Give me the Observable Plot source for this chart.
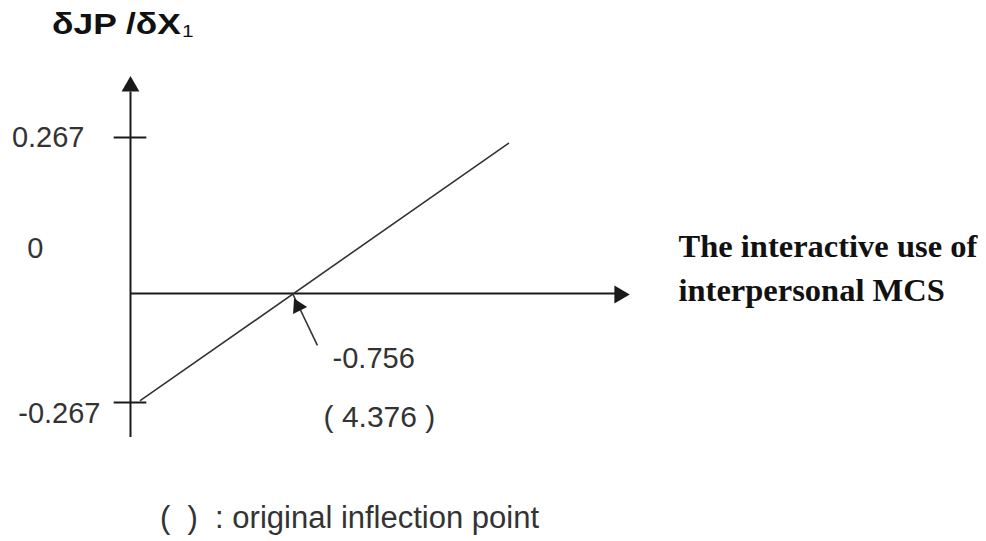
<!DOCTYPE html>
<html><head><meta charset="utf-8">
<script src="https://cdn.jsdelivr.net/npm/d3@7"></script>
<script src="https://cdn.jsdelivr.net/npm/@observablehq/plot@0.6"></script>
<style>
html,body{margin:0;padding:0;background:#fff;width:986px;height:541px;overflow:hidden}
#title{height:45px;position:relative;font-family:"Liberation Sans",Arial,sans-serif;font-weight:bold;font-size:29px;color:#111}
#title span{position:absolute;left:52px;top:7px;line-height:34px;white-space:pre;transform:scaleX(1.22);transform-origin:0 50%}
#title sub{font-weight:normal;font-size:17px;vertical-align:baseline;position:relative;top:3px;margin-left:1px}
#chart{height:450px}
#caption{height:46px;position:relative;font-family:"Liberation Sans",Arial,sans-serif;font-size:31px;color:#333}
#caption span{position:absolute;left:160px;top:0;line-height:46px;white-space:pre}
</style></head>
<body>
<div id="title"><span></span></div>
<div id="chart"></div>
<div id="caption"><span></span></div>
<script>
// ---- data ----
const yTitle = "δJP /δX";
const yTitleSub = "1";
const xTitle = ["The interactive use of", "interpersonal MCS"];
const yTickValues = [0.267, -0.267];
const yTickLabels = ["0.267", "-0.267"];
const zeroLabel = "0";
const axisX = [-1.5, 0.8];        // y-axis position, x-axis arrow tip
const axisY = [-0.353, 0.375];    // y-axis bottom, y-axis arrow tip
const lineX = [-1.454, 0.235];
const lineY = [-0.262, 0.257];
const inflectionX = -0.756;
const inflectionLabel = "-0.756";
const originalLabel = "( 4.376 )";
const calloutStart = [-0.642, -0.127];
const captionText = "(  )  : original inflection point";

// ---- titles ----
const t = document.querySelector("#title span");
t.textContent = yTitle;
const sub = document.createElement("sub");
sub.textContent = yTitleSub;
t.appendChild(sub);
document.querySelector("#caption span").textContent = captionText;

const ink = "#1a1a1a";
const textInk = "#333";
const sans = "Liberation Sans, Arial, sans-serif";
const tickHalf = 0.075;

const lineData = lineX.map((x, i) => ({x, y: lineY[i]}));

const chart = Plot.plot({
  width: 986,
  height: 450,
  margin: 0,
  style: {background: "transparent", overflow: "visible"},
  x: {type: "linear", domain: axisX, range: [130, 631], axis: null},
  y: {type: "linear", domain: [yTickValues[1], 0, yTickValues[0]], range: [357, 248, 92], axis: null},
  marks: [
    // y axis
    Plot.ruleX([axisX[0]], {y1: () => axisY[0], y2: () => axisY[1] - 0.03, stroke: ink, strokeWidth: 2}),
    // x axis
    Plot.ruleY([0], {x1: () => axisX[0], x2: () => axisX[1] - 0.04, stroke: ink, strokeWidth: 2}),
    // ticks on y axis
    Plot.ruleY(yTickValues, {x1: () => axisX[0] - tickHalf, x2: () => axisX[0] + tickHalf, stroke: ink, strokeWidth: 2}),
    // arrowheads of the axes
    Plot.dot([{x: axisX[0], y: axisY[1]}], {x: "x", y: "y", symbol: "triangle2", r: 8.5, fill: ink, stroke: "none", dy: 12, rotate: 0}),
    Plot.dot([{x: axisX[1], y: 0}], {x: "x", y: "y", symbol: "triangle2", r: 8.5, fill: ink, stroke: "none", dx: -12, dy: 1, rotate: 90}),
    // the marginal effect line
    Plot.line(lineData, {x: "x", y: "y", stroke: "#333", strokeWidth: 1.6}),
    // callout arrow to the inflection point
    Plot.link([{x1: calloutStart[0], y1: calloutStart[1], x2: inflectionX, y2: 0}],
      {x1: "x1", y1: "y1", x2: "x2", y2: "y2", stroke: "#333", strokeWidth: 1.6}),
    Plot.dot([{x: inflectionX, y: 0}], {x: "x", y: "y", symbol: "triangle2", r: 7.5, fill: ink, stroke: "none", dx: 5.5, dy: 13, rotate: -26.6}),
    // y tick labels
    Plot.text([yTickValues[0]], {x: () => axisX[0], y: d => d, text: () => yTickLabels[0], textAnchor: "end", dx: -46, fontSize: 29, fontFamily: sans, fill: textInk}),
    Plot.text([yTickValues[1]], {x: () => axisX[0], y: d => d, text: () => yTickLabels[1], textAnchor: "end", dx: -30, dy: 11, fontSize: 29, fontFamily: sans, fill: textInk}),
    Plot.text([0], {x: () => axisX[0], y: d => d, text: () => zeroLabel, textAnchor: "end", dx: -87, dy: -45, fontSize: 29, fontFamily: sans, fill: textInk}),
    // inflection labels
    Plot.text([{x: inflectionX, y: 0}], {x: "x", y: "y", text: () => inflectionLabel, textAnchor: "start", dx: 40, dy: 65, fontSize: 29, fontFamily: sans, fill: textInk}),
    Plot.text([{x: inflectionX, y: 0}], {x: "x", y: "y", text: () => originalLabel, textAnchor: "start", dx: 31, dy: 124, fontSize: 30, fontFamily: sans, fill: textInk}),
    // x axis title
    Plot.text([{x: axisX[1], y: 0}], {x: "x", y: "y", text: () => xTitle.join("\n"), textAnchor: "start", lineAnchor: "middle", lineHeight: 1.354, dx: 47, dy: -29, fontSize: 32.5, fontWeight: "bold", fontFamily: "Liberation Serif, Times New Roman, serif", fill: "#111"})
  ]
});
document.getElementById("chart").appendChild(chart);
</script>
</body></html>
